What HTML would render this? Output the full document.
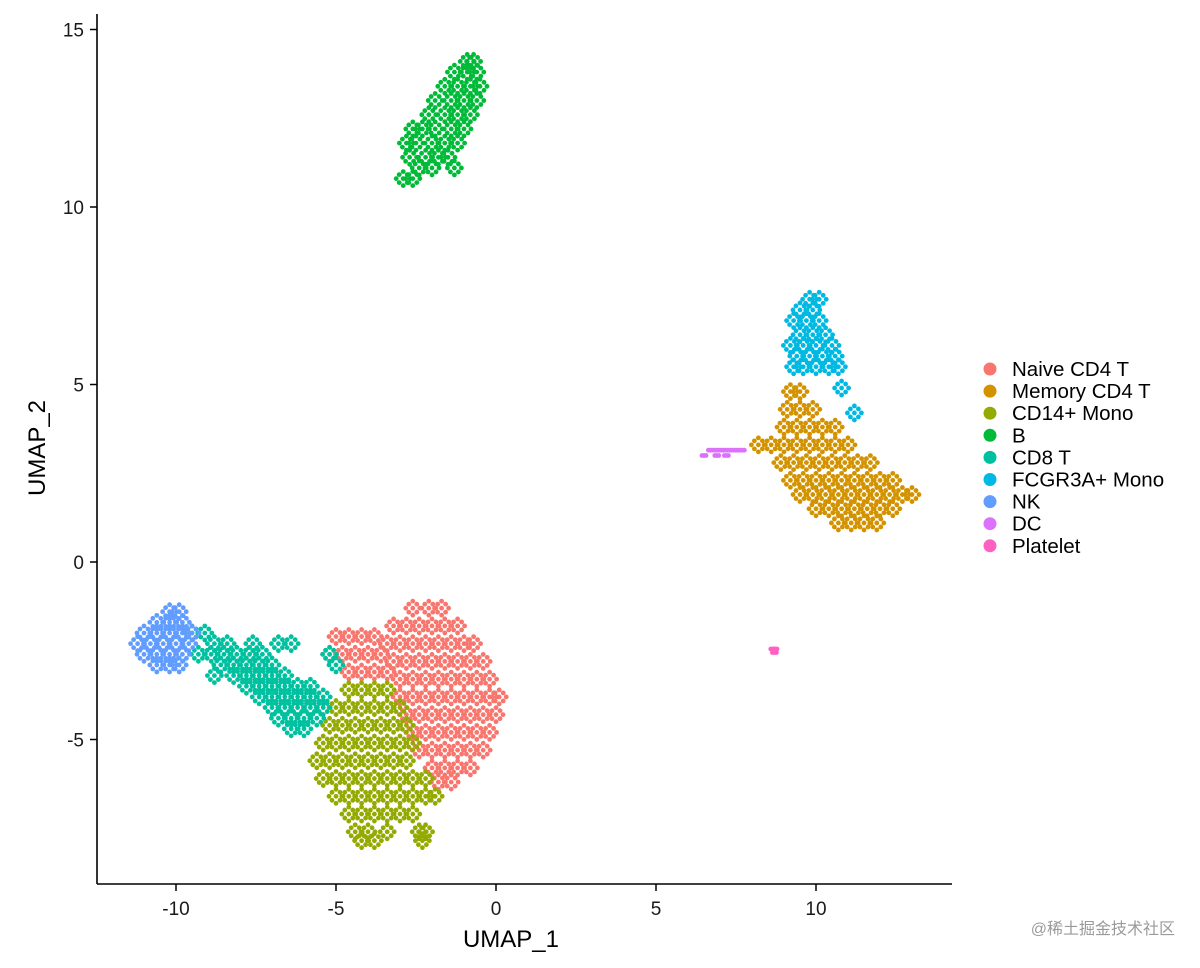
<!DOCTYPE html>
<html><head><meta charset="utf-8"><style>
html,body{margin:0;padding:0;background:#fff;}
svg text{font-family:"Liberation Sans","Noto Sans CJK SC",sans-serif;}
</style></head><body>
<svg id="chart" width="1200" height="963" viewBox="0 0 1200 963" xmlns="http://www.w3.org/2000/svg">
<g id="points"></g>
<line x1="97" y1="14" x2="97" y2="884" stroke="#000" stroke-width="1.6"/>
<line x1="97" y1="884" x2="952" y2="884" stroke="#000" stroke-width="1.6"/>
<g id="xticks"></g>
<g id="yticks"></g>
<text x="511" y="947" font-size="24" text-anchor="middle" fill="#000">UMAP_1</text>
<text transform="translate(45,448) rotate(-90)" font-size="24" text-anchor="middle" fill="#000">UMAP_2</text>
<g id="legend"></g>
<text x="1175" y="934" font-size="16" text-anchor="end" fill="#9a9a9a">@稀土掘金技术社区</text>
</svg>
<script>
const categories = ["Naive CD4 T","Memory CD4 T","CD14+ Mono","B","CD8 T","FCGR3A+ Mono","NK","DC","Platelet"];
const colors = ["#F8766D","#D39200","#93AA00","#00BA38","#00C19F","#00B9E3","#619CFF","#DB72FB","#FF61C3"];
const xTicks = [-10,-5,0,5,10];
const yTicks = [-5,0,5,10,15];
// each row: [y, x1, x2, ...]
const naiveCD4 = [[-1.3,-2.6,-2.1,-1.7],[-1.8,-3.2,-2.8,-2.4,-2.0,-1.6,-1.2],[-2.1,-5.0,-4.6,-4.2,-3.8],[-2.3,-3.4,-3.0,-2.6,-2.2,-1.8,-1.4,-1.0,-0.7],[-2.6,-5.2,-4.8,-4.4,-4.0,-3.6],[-2.8,-3.2,-2.8,-2.4,-2.0,-1.6,-1.2,-0.8,-0.4],[-3.1,-4.6,-4.2,-3.8,-3.4],[-3.3,-3.0,-2.6,-2.2,-1.8,-1.4,-1.0,-0.6,-0.2],[-3.8,-3.0,-2.6,-2.2,-1.8,-1.4,-1.0,-0.6,-0.2,0.1],[-4.3,-2.8,-2.4,-2.0,-1.6,-1.2,-0.8,-0.4,0.0],[-4.8,-2.6,-2.2,-1.8,-1.4,-1.0,-0.6,-0.2],[-5.3,-2.4,-2.0,-1.6,-1.2,-0.8,-0.4],[-5.8,-2.0,-1.6,-1.2,-0.8],[-6.2,-1.8,-1.4]];
const memoryCD4 = [[4.8,9.2,9.5],[4.3,9.1,9.5,9.9],[3.8,9.0,9.4,9.8,10.2,10.6],[3.3,8.2,8.6,9.0,9.4,9.8,10.2,10.6,11.0],[2.8,8.9,9.3,9.7,10.1,10.5,10.9,11.3,11.7],[2.3,9.2,9.6,10.0,10.4,10.8,11.2,11.6,12.0,12.4],[1.9,9.5,9.9,10.3,10.7,11.1,11.5,11.9,12.3,12.7,13.0],[1.5,10.0,10.4,10.8,11.2,11.6,12.0,12.4],[1.1,10.7,11.1,11.5,11.9]];
const cd14Mono = [[-3.6,-4.6,-4.2,-3.8,-3.4],[-4.1,-5.0,-4.6,-4.2,-3.8,-3.4,-3.0],[-4.6,-5.2,-4.8,-4.4,-4.0,-3.6,-3.2,-2.8],[-5.1,-5.4,-5.0,-4.6,-4.2,-3.8,-3.4,-3.0,-2.6],[-5.6,-5.6,-5.2,-4.8,-4.4,-4.0,-3.6,-3.2,-2.8],[-6.1,-5.4,-5.0,-4.6,-4.2,-3.8,-3.4,-3.0,-2.6,-2.2],[-6.6,-5.0,-4.6,-4.2,-3.8,-3.4,-3.0,-2.6,-2.2,-1.9],[-7.1,-4.6,-4.2,-3.8,-3.4,-3.0,-2.6],[-7.6,-4.4,-4.0,-3.4,-2.4,-2.2],[-7.85,-4.2,-3.8,-2.3]];
const bCells = [[10.8,-2.9,-2.6],[11.1,-2.4,-2.0,-1.3],[11.4,-2.7,-2.2,-1.8,-1.5],[11.8,-2.8,-2.5,-2.0,-1.6,-1.2],[12.2,-2.6,-2.3,-1.9,-1.4,-1.0],[12.6,-2.1,-1.6,-1.2,-0.8],[13.0,-1.9,-1.4,-1.0,-0.6],[13.4,-1.6,-1.2,-0.8,-0.5],[13.8,-1.3,-0.9,-0.6],[14.1,-0.9,-0.7]];
const cd8T = [[-2.0,-9.5,-9.1],[-2.3,-8.8,-8.4,-7.6,-6.8,-6.4],[-2.6,-9.3,-8.9,-8.5,-8.1,-7.7,-7.3,-5.2],[-2.9,-8.6,-8.2,-7.8,-7.4,-7.0,-5.0],[-3.2,-8.8,-8.2,-7.8,-7.4,-7.0,-6.6],[-3.5,-7.8,-7.4,-7.0,-6.6,-6.2,-5.8],[-3.8,-7.4,-7.0,-6.6,-6.2,-5.8,-5.4],[-4.1,-7.0,-6.6,-6.2,-5.8,-5.4],[-4.4,-6.8,-6.4,-6.0,-5.6],[-4.7,-6.4,-6.0]];
const fcgr3aMono = [[7.4,9.8,10.1],[7.1,9.5,9.9],[6.8,9.3,9.7,10.1],[6.4,9.5,9.9,10.3],[6.1,9.2,9.6,10.0,10.5],[5.8,9.4,9.8,10.2,10.6],[5.5,9.3,9.6,10.0,10.4,10.7],[4.9,10.8],[4.2,11.2]];
const nkCells = [[-1.4,-10.2,-9.9],[-1.7,-10.6,-10.2,-9.8],[-2.0,-11.0,-10.6,-10.2,-9.8,-9.5],[-2.3,-11.2,-10.8,-10.4,-10.0,-9.6],[-2.6,-11.0,-10.6,-10.2,-9.8],[-2.9,-10.6,-10.2,-9.9]];
const dcCells = [[3.15,6.7,6.9,7.1,7.3,7.5,7.7],[3.0,6.5,6.9,7.2]];
const plateletCells = [[-2.45,8.65,8.72],[-2.55,8.7]];
const clusters = [naiveCD4,memoryCD4,cd14Mono,bCells,cd8T,fcgr3aMono,nkCells,dcCells,plateletCells];

const NS="http://www.w3.org/2000/svg";
function xs(v){return 496+32*v;}
function ys(v){return 562-35.5*v;}
// fixed rendering pattern: each estimated position drawn as a small group of dots
const dotPattern=[[0,0],[-4,-4],[4,-4],[-4,4],[4,4],[0,-7],[0,7],[-7,0],[7,0]];
const pg=document.getElementById('points');
clusters.forEach((rows,ci)=>{
  rows.forEach(r=>{
    for(let i=1;i<r.length;i++){
      const g=document.createElementNS(NS,'g');
      
      
      const pat = ci>=7 ? [[0,0],[-2,0],[2,0]] : dotPattern;
      pat.forEach(o=>{
        const c=document.createElementNS(NS,'circle');
        c.setAttribute('cx',xs(r[i])+o[0]);c.setAttribute('cy',ys(r[0])+o[1]);
        c.setAttribute('r',2.4);c.setAttribute('fill',colors[ci]);
        g.appendChild(c);
      });
      pg.appendChild(g);
    }
  });
});
const xt=document.getElementById('xticks');
xTicks.forEach(t=>{
  const l=document.createElementNS(NS,'line');
  
  
  l.setAttribute('x1',xs(t));l.setAttribute('x2',xs(t));l.setAttribute('y1',884);l.setAttribute('y2',891);l.setAttribute('stroke','#000');l.setAttribute('stroke-width','1.5');
  xt.appendChild(l);
  const tx=document.createElementNS(NS,'text');
  
  
  tx.setAttribute('x',xs(t));tx.setAttribute('y',915);tx.setAttribute('font-size','19');tx.setAttribute('text-anchor','middle');tx.setAttribute('fill','#1a1a1a');
  tx.textContent=t;xt.appendChild(tx);
});
const yt=document.getElementById('yticks');
yTicks.forEach(t=>{
  const l=document.createElementNS(NS,'line');
  
  
  l.setAttribute('x1',90);l.setAttribute('x2',97);l.setAttribute('y1',ys(t));l.setAttribute('y2',ys(t));l.setAttribute('stroke','#000');l.setAttribute('stroke-width','1.5');
  yt.appendChild(l);
  const tx=document.createElementNS(NS,'text');
  
  
  tx.setAttribute('x',84);tx.setAttribute('y',ys(t)+7);tx.setAttribute('font-size','19');tx.setAttribute('text-anchor','end');tx.setAttribute('fill','#1a1a1a');
  tx.textContent=t;yt.appendChild(tx);
});
const lg=document.getElementById('legend');
categories.forEach((c,i)=>{
  const y=369+22.1*i;
  const ci=document.createElementNS(NS,'circle');
  
  
  ci.setAttribute('cx',990);ci.setAttribute('cy',y);ci.setAttribute('r',6.5);ci.setAttribute('fill',colors[i]);
  lg.appendChild(ci);
  const tx=document.createElementNS(NS,'text');
  
  
  tx.setAttribute('x',1012);tx.setAttribute('y',y+7);tx.setAttribute('font-size','20.5');tx.setAttribute('fill','#000');
  tx.textContent=c;lg.appendChild(tx);
});
</script>
</body></html>
